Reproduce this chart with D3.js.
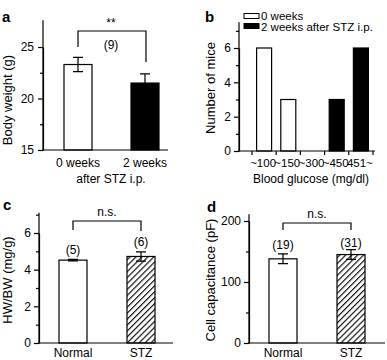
<!DOCTYPE html>
<html>
<head>
<meta charset="utf-8">
<script src="https://cdn.jsdelivr.net/npm/d3@7"></script>
<style>
  body { margin: 0; background: #fff; }
  svg { display: block; font-family: Arial, "Liberation Sans", sans-serif; }
  .domain, .tick line { stroke: #000; stroke-width: 1.2; }
  .tick text { font-size: 12px; fill: #000; }
</style>
</head>
<body>
<div id="chart"></div>
<script>
// panel a: body weight
var weightGroups = ['0 weeks', '2 weeks'];
var weightMean = [23.3, 21.5];
var weightErr = [0.7, 0.9];

// panel b: blood glucose histogram
var glucoseBins = ['~100', '~150', '~300', '~450', '451~'];
var mice0w = [6, 3, 0, 0, 0];
var mice2w = [0, 0, 0, 3, 6];

// panels c, d
var heartGroups = ['Normal', 'STZ'];
var hwbwMean = [4.52, 4.72];
var hwbwErr = [0.04, 0.25];
var hwbwN = ['(5)', '(6)'];
var capMean = [138, 145];
var capErr = [8, 8];
var capN = ['(19)', '(31)'];

var svg = d3.select('#chart').append('svg')
  .attr('width', 387)
  .attr('height', 360);

var defs = svg.append('defs');
var hatch = defs.append('pattern')
  .attr('id', 'hatch')
  .attr('patternUnits', 'userSpaceOnUse')
  .attr('width', 4.2).attr('height', 4.2)
  .attr('patternTransform', 'rotate(45)');
hatch.append('rect').attr('width', 4.2).attr('height', 4.2).attr('fill', '#fff');
hatch.append('line').attr('x1', 0.6).attr('y1', 0).attr('x2', 0.6).attr('y2', 4.2)
  .attr('stroke', '#000').attr('stroke-width', 1.1);

// y axis with major + minor ticks
var yAxis = function(g, x0, y, major, minor, pad) {
  g.append('g').attr('transform', 'translate(' + x0 + ',0)')
    .call(d3.axisLeft(y).tickValues(minor).tickSize(3).tickFormat(''))
    .call(function(s) { s.select('.domain').remove(); });
  g.append('g').attr('transform', 'translate(' + x0 + ',0)')
    .call(d3.axisLeft(y).tickValues(major).tickSize(5).tickSizeOuter(0)
      .tickPadding(pad).tickFormat(d3.format('d')));
};

var xLine = function(g, x1, x2, yPos) {
  g.append('line').attr('x1', x1 - 0.6).attr('x2', x2).attr('y1', yPos).attr('y2', yPos)
    .attr('stroke', '#000').attr('stroke-width', 1.2);
};

var label = function(g, txt, x, y, size, weight, anchor) {
  return g.append('text').attr('x', x).attr('y', y)
    .attr('text-anchor', anchor || 'middle')
    .style('font-size', size + 'px')
    .style('font-weight', weight || 'normal')
    .text(txt);
};

var yTitle = function(g, txt, x, yc) {
  g.append('text')
    .attr('transform', 'translate(' + x + ',' + yc + ') rotate(-90)')
    .attr('text-anchor', 'middle')
    .style('font-size', '13px')
    .text(txt);
};

var bracket = function(g, x1, x2, top, l1, l2) {
  g.append('path')
    .attr('d', 'M' + x1 + ',' + l1 + 'V' + top + 'H' + x2 + 'V' + l2)
    .attr('fill', 'none').attr('stroke', '#000').attr('stroke-width', 1.2);
};

var errBars = function(g, x, y, means, errs, cap) {
  g.selectAll(null).data(means).enter().append('path')
    .attr('d', function(d, i) {
      var cx = x(i), t = y(d + errs[i]), b = y(d - errs[i]);
      return 'M' + (cx - cap) + ',' + t + 'H' + (cx + cap) +
        'M' + cx + ',' + t + 'V' + b +
        'M' + (cx - cap) + ',' + b + 'H' + (cx + cap);
    })
    .attr('fill', 'none').attr('stroke', '#000').attr('stroke-width', 1.2);
};

// ---------- panel a ----------
var ga = svg.append('g');
var ya = d3.scaleLinear().domain([15, 25]).range([150, 47]);
var xa = d3.scaleLinear().domain([0, 1]).range([78, 145]);
var bw = 28;

ga.append('line').attr('x1', 43).attr('x2', 43).attr('y1', ya(15)).attr('y2', ya(27.6))
  .attr('stroke', '#000').attr('stroke-width', 1.2);
yAxis(ga, 43, ya, [15, 20, 25], [17.5, 22.5], 4);
ga.selectAll('rect.bar').data(weightMean).enter().append('rect')
  .attr('x', function(d, i) { return xa(i) - bw / 2; })
  .attr('y', function(d) { return ya(d); })
  .attr('width', bw)
  .attr('height', function(d) { return ya(15) - ya(d); })
  .attr('fill', function(d, i) { return i === 0 ? '#fff' : '#000'; })
  .attr('stroke', '#000').attr('stroke-width', 1.2);
errBars(ga, xa, ya, weightMean, weightErr, 5);
xLine(ga, 43, 168, 150);
weightGroups.forEach(function(t, i) { label(ga, t, xa(i), 167, 12); });
label(ga, 'after STZ i.p.', 111, 183, 12);
bracket(ga, 78, 146, 31, 47, 62);
label(ga, '**', 111, 27, 12);
label(ga, '(9)', 111, 49, 12);
yTitle(ga, 'Body weight (g)', 12, 100);
label(ga, 'a', 2, 22, 15, 'bold', 'start');

// ---------- panel b ----------
var gb = svg.append('g');
var yb = d3.scaleLinear().domain([0, 6]).range([151, 48]);
var xb = d3.scaleBand().domain(glucoseBins).range([252, 373]).paddingInner(0.38).paddingOuter(0.19);

gb.append('line').attr('x1', 239).attr('x2', 239).attr('y1', yb(0)).attr('y2', yb(7.5))
  .attr('stroke', '#000').attr('stroke-width', 1.2);
yAxis(gb, 239, yb, [0, 2, 4, 6], [1, 3, 5, 7], 3);

var binW = (373 - 252) / glucoseBins.length;
gb.selectAll('line.xt').data(d3.range(glucoseBins.length + 1)).enter().append('line')
  .attr('x1', function(i) { return 252 + i * binW; })
  .attr('x2', function(i) { return 252 + i * binW; })
  .attr('y1', 151).attr('y2', 155)
  .attr('stroke', '#000').attr('stroke-width', 1.2);

var barVal = function(d) {
  var i = glucoseBins.indexOf(d);
  return mice0w[i] || mice2w[i];
};
gb.selectAll(null).data(glucoseBins.filter(function(d) { return barVal(d) > 0; }))
  .enter().append('rect')
  .attr('x', function(d) { return xb(d); })
  .attr('y', function(d) { return yb(barVal(d)); })
  .attr('width', xb.bandwidth())
  .attr('height', function(d) { return yb(0) - yb(barVal(d)); })
  .attr('fill', function(d) { return mice0w[glucoseBins.indexOf(d)] > 0 ? '#fff' : '#000'; })
  .attr('stroke', '#000').attr('stroke-width', 1.2);
xLine(gb, 239, 375, 151);
glucoseBins.forEach(function(t) { label(gb, t, xb(t) + xb.bandwidth() / 2 - 1, 167, 11.5); });
label(gb, 'Blood glucose (mg/dl)', 311, 183, 12);
yTitle(gb, 'Number of mice', 215, 88);
label(gb, 'b', 205, 22, 15, 'bold', 'start');

// legend
gb.append('rect').attr('x', 244).attr('y', 13.5).attr('width', 15).attr('height', 5)
  .attr('fill', '#fff').attr('stroke', '#000').attr('stroke-width', 1);
gb.append('rect').attr('x', 244).attr('y', 23.5).attr('width', 15).attr('height', 5)
  .attr('fill', '#000').attr('stroke', '#000').attr('stroke-width', 1);
label(gb, '0 weeks', 261, 20, 11.5, 'normal', 'start');
label(gb, '2 weeks after STZ i.p.', 261, 30.5, 11.5, 'normal', 'start');

// ---------- panels c and d ----------
var heartPanel = function(opt) {
  var g = svg.append('g');
  var y = d3.scaleLinear().domain(opt.domain).range(opt.range);
  var x = d3.scaleLinear().domain([0, 1]).range([opt.x0 + 34, opt.x0 + 102]);
  g.append('line').attr('x1', opt.x0).attr('x2', opt.x0).attr('y1', y(0)).attr('y2', y(opt.top))
    .attr('stroke', '#000').attr('stroke-width', 1.2);
  yAxis(g, opt.x0, y, opt.major, opt.minor, 3);
  g.selectAll('rect.bar').data(opt.mean).enter().append('rect')
    .attr('x', function(d, i) { return x(i) - bw / 2; })
    .attr('y', function(d) { return y(d); })
    .attr('width', bw)
    .attr('height', function(d) { return y(0) - y(d); })
    .attr('fill', function(d, i) { return i === 0 ? '#fff' : 'url(#hatch)'; })
    .attr('stroke', '#000').attr('stroke-width', 1.2);
  errBars(g, x, y, opt.mean, opt.err, 5);
  xLine(g, opt.x0, opt.x1, y(0));
  heartGroups.forEach(function(t, i) { label(g, t, x(i), 357, 12); });
  opt.n.forEach(function(t, i) { label(g, t, x(i), opt.nY[i], 12); });
  bracket(g, x(0), x(1), opt.br[0], opt.br[1], opt.br[2]);
  label(g, 'n.s.', (x(0) + x(1)) / 2, opt.br[0] - 5, 12);
  yTitle(g, opt.title, opt.titleX, opt.titleY);
  label(g, opt.letter, opt.letterX, opt.letterY, 15, 'bold', 'start');
};

heartPanel({
  x0: 39, x1: 173, domain: [0, 6], range: [343, 233], top: 7.1,
  major: [0, 2, 4, 6], minor: [1, 3, 5, 7],
  mean: hwbwMean, err: hwbwErr, n: hwbwN, nY: [254, 246],
  br: [221, 230, 231], title: 'HW/BW (mg/g)', titleX: 12, titleY: 280,
  letter: 'c', letterX: 3, letterY: 210
});

heartPanel({
  x0: 249, x1: 385, domain: [0, 200], range: [343, 221], top: 211,
  major: [0, 100, 200], minor: [50, 150],
  mean: capMean, err: capErr, n: capN, nY: [249, 247],
  br: [223, 230, 230], title: 'Cell capacitance (pF)', titleX: 215, titleY: 280,
  letter: 'd', letterX: 207, letterY: 212
});
</script>
</body>
</html>
